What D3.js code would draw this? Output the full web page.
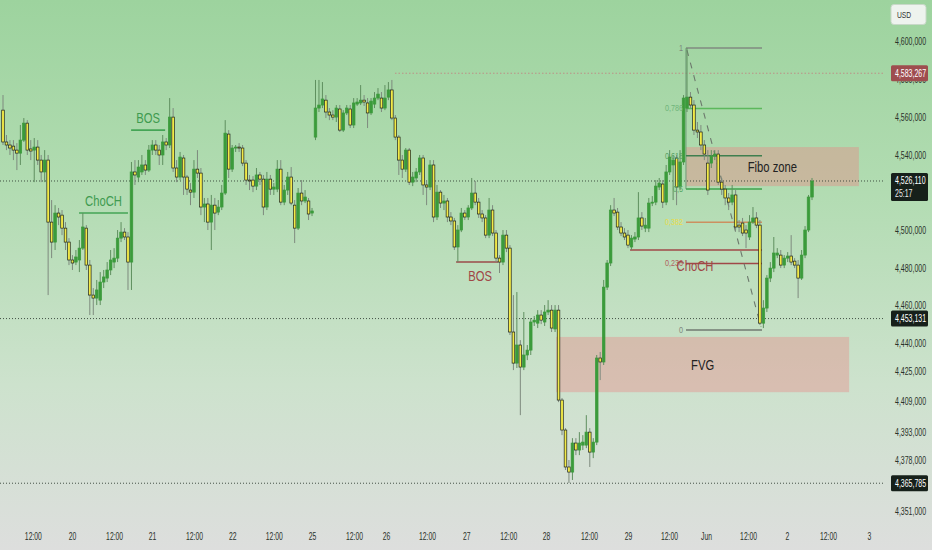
<!DOCTYPE html>
<html>
<head>
<meta charset="utf-8">
<script src="https://cdn.jsdelivr.net/npm/d3@7"></script>
<style>
html,body{margin:0;padding:0;overflow:hidden;background:#dcdddc}
svg{display:block}
</style>
</head>
<body>
<svg id="chart" width="932" height="550"></svg>
<script>
// ---------- DATA (price in thousands) ----------
// each candle: [open, high, low, close]
const may19 = [
 [4563.7,4571.7,4545.2,4546.8],[4546.8,4550.5,4542.5,4545.2],[4545.2,4547.8,4539.9,4543.6],[4544.6,4547.8,4537.2,4542.5],
 [4542.5,4546.2,4531.9,4540.9],[4540.9,4555.8,4534.6,4547.8],[4547.8,4559.5,4546.8,4556.8],[4556.8,4558.4,4539.9,4542.5],
 [4543.1,4547.8,4537.2,4542.0],[4542.5,4548.9,4525.5,4544.1],[4544.1,4547.8,4534.6,4537.2],[4537.2,4539.9,4525.5,4530.9],
 [4530.9,4542.5,4525.5,4537.2],[4537.2,4539.9,4465.6,4504.3],[4504.3,4516.0,4485.2,4493.7],[4493.7,4513.3,4489.5,4509.1],
 [4509.1,4511.8,4502.7,4507.0],[4508.0,4510.7,4497.4,4501.1],[4501.1,4504.3,4489.5,4493.7],[4493.7,4495.8,4481.5,4484.2]
];
const may20 = [
 [4484.2,4486.8,4478.9,4482.6],[4483.1,4489.5,4481.5,4485.8],[4484.2,4494.8,4477.8,4490.5],[4490.5,4509.1,4489.5,4501.7],
 [4501.1,4502.7,4478.9,4481.5],[4481.5,4484.2,4455.0,4465.6],[4465.6,4469.3,4455.0,4464.0],[4464.0,4473.6,4460.3,4468.3],
 [4462.9,4477.8,4460.3,4472.5],[4472.5,4478.9,4469.3,4475.2],[4474.6,4483.1,4472.5,4478.9],[4478.9,4489.5,4476.2,4484.2],
 [4483.1,4490.5,4479.9,4485.2],[4485.2,4500.1,4483.1,4495.8],[4495.8,4504.3,4493.7,4499.0],[4499.0,4501.1,4494.8,4496.4],
 [4496.4,4499.0,4468.3,4483.1],[4483.1,4536.2,4468.3,4530.9],[4530.9,4537.2,4524.0,4529.3],[4528.2,4537.2,4525.5,4533.5],
 [4530.9,4539.9,4529.3,4534.6],[4534.6,4537.2,4529.3,4531.9],[4531.9,4545.2,4530.9,4542.5]
];
const may21 = [
 [4542.5,4547.8,4539.9,4545.2],[4545.2,4547.8,4539.9,4542.5],[4542.5,4545.2,4534.6,4539.9],[4539.9,4550.5,4534.6,4546.8],
 [4546.8,4548.9,4542.5,4545.2],[4545.2,4570.1,4543.6,4560.0],[4560.0,4564.8,4530.9,4533.0],[4533.0,4537.2,4525.5,4528.2],
 [4528.2,4541.5,4526.6,4538.8],[4538.3,4539.9,4518.7,4528.2],[4528.2,4529.3,4518.7,4521.8],[4521.3,4525.0,4513.3,4520.2],
 [4520.2,4537.2,4517.1,4532.4],[4532.4,4542.5,4527.7,4530.3],[4530.3,4533.0,4508.0,4512.3],[4512.3,4517.1,4504.3,4513.9],
 [4513.9,4517.1,4500.1,4504.3],[4504.3,4518.7,4489.5,4513.3],[4513.3,4517.1,4500.1,4509.1],[4509.6,4516.0,4508.0,4512.3],
 [4512.3,4524.0,4510.7,4519.7],[4519.7,4558.4,4518.7,4551.5],[4551.0,4553.1,4527.7,4532.4]
];
const may22 = [
 [4532.4,4545.2,4530.9,4543.6],[4543.6,4545.2,4541.5,4544.1],[4544.1,4546.2,4541.5,4543.6],[4543.6,4545.2,4534.0,4535.6],
 [4535.6,4537.2,4524.0,4526.6],[4526.6,4529.3,4521.3,4526.1],[4526.6,4528.7,4520.2,4523.4],[4523.4,4533.0,4521.3,4529.3],
 [4529.3,4530.9,4524.0,4527.1],[4527.1,4529.3,4508.0,4512.3],[4512.3,4530.9,4510.7,4527.1],[4527.1,4529.3,4518.7,4521.8],
 [4521.8,4525.0,4518.7,4522.9],[4521.8,4537.2,4520.2,4532.4],[4532.4,4537.2,4513.3,4514.9],[4514.9,4524.0,4513.3,4521.3],
 [4521.3,4530.9,4518.7,4528.2],[4528.2,4533.5,4513.3,4514.4],[4513.3,4516.0,4493.2,4501.1],[4501.1,4522.4,4500.1,4519.7],
 [4519.7,4526.6,4513.3,4515.5],[4515.5,4521.3,4514.4,4517.6],[4515.5,4517.1,4505.4,4508.6],[4509.1,4511.8,4507.5,4510.2]
];
const may25 = [
 [4549.4,4579.7,4547.8,4564.8],[4564.8,4579.7,4562.7,4566.4],[4566.4,4578.6,4564.8,4569.6],[4569.0,4571.7,4559.5,4562.7],
 [4562.7,4564.8,4558.4,4561.1],[4561.1,4563.7,4558.4,4560.0],[4560.0,4566.4,4557.4,4564.8],[4564.3,4566.4,4552.1,4553.1],
 [4553.1,4563.7,4552.1,4562.2],[4562.2,4566.4,4561.1,4564.8],[4564.3,4566.4,4554.2,4555.8],[4555.8,4570.1,4554.2,4567.5],
 [4566.9,4570.1,4565.9,4568.0],[4567.5,4577.0,4566.4,4569.0],[4569.0,4571.7,4565.9,4568.0],[4567.5,4570.1,4554.2,4562.2],
 [4562.2,4570.1,4561.1,4568.5],[4566.9,4573.3,4564.8,4570.1],[4570.1,4575.4,4569.0,4572.2],[4570.1,4573.3,4562.7,4564.8],
 [4564.8,4577.0,4563.7,4570.1]
];
const may26 = [
 [4570.6,4578.6,4569.0,4574.4],[4574.4,4579.7,4558.4,4559.5],[4559.5,4561.1,4547.8,4549.4],[4549.4,4550.5,4529.3,4537.2],
 [4537.2,4539.9,4527.7,4532.4],[4532.4,4543.6,4530.9,4542.5],[4542.5,4543.6,4524.0,4525.5],[4525.5,4530.9,4523.4,4528.2],
 [4527.7,4533.0,4525.5,4530.9],[4530.9,4539.9,4529.3,4538.3],[4538.3,4539.9,4518.7,4524.0],[4524.0,4526.6,4513.3,4522.9],
 [4522.9,4537.2,4521.3,4534.6],[4534.6,4537.2,4504.3,4507.0],[4507.0,4524.0,4505.4,4520.2],[4520.2,4521.3,4511.8,4514.4],
 [4514.4,4518.7,4510.7,4515.5],[4515.5,4517.1,4504.3,4507.0],[4507.0,4509.6,4502.7,4504.9],[4504.9,4506.5,4489.5,4491.1],
 [4491.1,4502.7,4483.1,4500.1],[4500.1,4511.8,4499.0,4509.1],[4509.1,4510.7,4505.4,4507.0]
];
const may27 = [
 [4507.0,4513.3,4505.4,4511.8],[4511.8,4527.7,4510.7,4519.7],[4519.7,4526.1,4513.3,4514.9],[4514.9,4517.1,4506.5,4508.6],
 [4508.6,4510.7,4504.3,4506.5],[4506.5,4508.0,4495.8,4497.4],[4497.4,4517.1,4495.8,4510.7],[4510.7,4513.3,4496.9,4498.5],
 [4498.5,4500.1,4483.1,4485.2],[4485.2,4486.8,4477.3,4483.1],[4483.1,4500.1,4481.5,4497.4],[4497.4,4500.1,4488.4,4490.5],
 [4490.5,4492.1,4444.4,4446.0],[4446.0,4465.6,4425.8,4429.5],[4429.5,4467.2,4426.9,4439.1],[4439.1,4441.7,4401.9,4427.4],
 [4427.4,4456.6,4425.8,4433.8],[4433.8,4439.1,4431.1,4436.4],[4436.4,4453.4,4433.8,4451.3],[4451.3,4454.5,4449.2,4452.3],
 [4450.7,4457.6,4448.1,4455.0],[4455.0,4457.6,4450.2,4452.3],[4451.3,4460.3,4449.2,4456.6]
];
const may28 = [
 [4456.6,4462.9,4455.0,4457.6],[4457.6,4460.3,4446.0,4448.1],[4447.6,4460.3,4446.0,4457.6],[4457.6,4460.3,4408.8,4409.9],
 [4409.9,4411.0,4391.3,4394.0],[4394.0,4395.0,4372.8,4374.4],[4374.4,4378.1,4365.9,4371.7],[4371.7,4389.7,4367.5,4387.1],
 [4387.1,4389.7,4380.7,4383.4],[4383.4,4392.9,4380.7,4387.1],[4386.0,4391.3,4383.4,4387.6],[4386.0,4401.9,4384.4,4392.9],
 [4392.9,4395.0,4374.4,4382.3],[4382.3,4389.7,4379.1,4387.6],[4387.6,4433.8,4386.0,4432.2],[4432.2,4435.4,4420.5,4430.1],
 [4430.1,4473.6,4428.5,4469.8],[4469.8,4484.2,4468.3,4482.6],[4482.6,4513.3,4481.0,4510.7],[4510.7,4517.1,4507.5,4509.1],
 [4509.6,4511.8,4500.1,4501.7],[4501.7,4504.3,4496.9,4498.5]
];
const may29 = [
 [4498.5,4501.1,4494.8,4496.4],[4497.4,4500.1,4490.5,4492.1],[4491.1,4497.4,4489.5,4495.8],[4495.3,4499.0,4493.7,4496.4],
 [4496.4,4520.2,4494.8,4506.5],[4506.5,4509.6,4500.1,4502.2],[4501.1,4506.5,4499.0,4502.7],[4501.1,4517.1,4499.0,4514.4],
 [4514.4,4518.1,4512.8,4514.9],[4514.9,4526.6,4513.3,4523.4],[4522.9,4527.7,4521.3,4525.0],[4524.5,4526.6,4511.8,4514.9],
 [4514.9,4534.6,4513.3,4530.9],[4530.9,4542.5,4529.3,4538.8],[4534.6,4539.9,4516.0,4537.2],[4538.3,4539.9,4513.3,4522.9],
 [4522.9,4542.5,4521.3,4536.2],[4536.2,4571.7,4534.6,4570.1]
];
const jun1 = [
 [4564.8,4596.6,4562.7,4570.6],[4570.6,4573.3,4564.8,4566.4],[4566.4,4569.0,4550.5,4553.1],[4553.1,4557.4,4548.9,4552.1],
 [4552.1,4555.8,4542.5,4545.2],[4545.2,4547.8,4537.2,4540.4],[4535.6,4542.5,4518.7,4521.3],[4535.6,4542.5,4533.0,4539.3],
 [4539.3,4542.5,4537.2,4540.4],[4540.4,4542.5,4524.0,4525.5],[4525.5,4527.7,4518.7,4521.8],[4521.8,4524.0,4513.3,4517.1],
 [4517.1,4519.7,4510.7,4514.9],[4514.9,4524.0,4513.3,4518.7],[4518.7,4521.3,4500.1,4501.7],[4502.7,4505.4,4499.0,4501.7],
 [4503.8,4506.5,4496.9,4498.5],[4500.1,4502.7,4490.5,4498.5],[4496.4,4508.0,4494.8,4504.3],[4504.3,4512.3,4503.3,4506.5],
 [4506.5,4509.6,4501.1,4502.7],[4502.7,4505.4,4449.7,4450.7],[4450.7,4462.9,4448.1,4458.7],[4458.7,4476.2,4456.6,4474.6],
 [4474.6,4483.1,4472.5,4479.9],[4479.9,4496.4,4477.8,4487.9],[4486.8,4490.5,4485.2,4487.9]
];
const jun2 = [
 [4486.8,4489.5,4479.9,4481.5],[4481.5,4486.8,4479.9,4485.2],[4485.2,4488.4,4483.1,4486.3],[4486.3,4497.4,4481.5,4483.1],
 [4483.6,4485.2,4479.9,4481.5],[4481.5,4484.2,4464.0,4474.6],[4474.6,4489.5,4473.6,4486.8],[4486.8,4502.2,4485.2,4500.1],
 [4500.1,4518.7,4499.0,4517.6],[4517.6,4527.7,4516.0,4526.11]
];

// axis ticks
const priceTicks = [4600,4580,4560,4540,4500,4480,4460,4440,4425,4409,4393,4378,4351];
const timeTickPos = [8.6,19.9,32,42.9,55,66,78,89,101.1,110.3,122.1,133.4,145.5,156.4,168.8,180,191.8,202.5,214.6,225.8,237.6,249.4];
const timeTickLabels = ["12:00","20","12:00","21","12:00","22","12:00","25","12:00","26","12:00","27","12:00","28","12:00","29","12:00","Jun","12:00","2","12:00","3"];

// price markers on the axis
const markPrices = [4583.267, 4526.110, 4453.131, 4365.785];
const markKinds  = ["high","last","dot","dot"];
const countdown = "25:17";
const currency = "USD";

// annotations (bar index, price)
const chochGreen = [21.9, 36.0, 4509.1];
const bosGreen   = [36.9, 46.7, 4553.1];
const bosRed     = [130.5, 142.6, 4483.1];
const chochRed   = [180.6, 218.6, 4489.5];
const fibo       = [196.7, 218.6, 4596.6, 4447.1];
const fiboLevels = [1, 0.786, 0.618, 0.5, 0.382, 0.236, 0];
const fiboLabels = ["1","0,786","0,618","0,5","0,382","0,236","0"];
const fiboZone   = [196.7, 246.5, 4544.1, 4523.4];
const fvgZone    = [159.3, 243.7, 4443.4, 4414.1];
const highLineStart = 112.9;

// ---------- DRAW ----------
const candles = [].concat(may19,may20,may21,may22,may25,may26,may27,may28,may29,jun1,jun2);
const W = 932, H = 550, plotRight = 885;
const svg = d3.select('#chart');
const defs = svg.append('defs');
const grad = defs.append('linearGradient').attr('id','bg').attr('x1',0).attr('y1',0).attr('x2',0).attr('y2',1);
[[0,'#9dd39e'],[0.35,'#b2dcb2'],[0.7,'#cde2cd'],[1,'#dddedd']].forEach(s=>
  grad.append('stop').attr('offset',s[0]).attr('stop-color',s[1]));
defs.append('clipPath').attr('id','plotclip').append('rect').attr('x',0).attr('y',0).attr('width',plotRight).attr('height',522);

svg.append('rect').attr('width',W).attr('height',H).attr('fill','url(#bg)');

const x = d3.scaleLinear().domain([0, candles.length-1]).range([3, 812]);
const y = d3.scaleLinear().domain([4351, 4600]).range([511.1, 41.7]);

const FONT = "'Liberation Sans', Arial, sans-serif";
// condense text horizontally (reference uses a narrow face): move position into a transform, then scale x
function squeeze(sel, k){
  sel.each(function(){
    const t = d3.select(this);
    const tx = +t.attr('x') || 0, ty = +t.attr('y') || 0;
    t.attr('x',0).attr('y',0).attr('transform',`translate(${tx},${ty}) scale(${k},1)`);
  });
}
const plot = svg.append('g').attr('clip-path','url(#plotclip)');

// zones
plot.append('rect').attr('x',x(fvgZone[0])).attr('y',y(fvgZone[2]))
  .attr('width',x(fvgZone[1])-x(fvgZone[0])).attr('height',y(fvgZone[3])-y(fvgZone[2]))
  .attr('fill','rgba(232,140,138,0.42)');
plot.append('rect').attr('x',x(fiboZone[0])).attr('y',y(fiboZone[2]))
  .attr('width',x(fiboZone[1])-x(fiboZone[0])).attr('height',y(fiboZone[3])-y(fiboZone[2]))
  .attr('fill','rgba(222,150,140,0.5)');

// horizontal dotted lines
markPrices.forEach((p,i)=>{
  plot.append('line')
    .attr('x1', i===0 ? x(highLineStart) : 0).attr('x2', plotRight)
    .attr('y1', y(p)).attr('y2', y(p))
    .attr('stroke', i===0 ? '#c48080' : '#2c3a30')
    .attr('stroke-width', 1).attr('stroke-dasharray', i===0 ? '1.5,2' : '1,2')
    .attr('opacity', i===0 ? 0.8 : 0.85);
});

// structure lines
function hline(a, color){
  plot.append('line').attr('x1',x(a[0])).attr('x2',x(a[1])).attr('y1',y(a[2])).attr('y2',y(a[2]))
    .attr('stroke',color).attr('stroke-width',1.6);
}
hline(chochGreen,'#45a556');
hline(bosGreen,'#45a556');
hline(bosRed,'#9b4a4a');
hline(chochRed,'#a04848');

// fibo
const fiboColors = ['#808a80','#5cb85c','#3f7f4f','#3fa34d','#cc9060','#a04848','#707a70'];
const fiboTextColors = ['#7d887d','#6fb57a','#58a064','#58a864','#e8dc4a','#b06060','#7d887d'];
const fy = lv => y(fibo[3] + (fibo[2]-fibo[3])*lv);
plot.append('line').attr('x1',x(fibo[0])).attr('x2',x(fibo[0])).attr('y1',fy(1)).attr('y2',fy(0.5))
  .attr('stroke','#6f9a78').attr('stroke-width',1);
fiboLevels.forEach((lv,i)=>{
  plot.append('line').attr('x1',x(fibo[0])).attr('x2',x(fibo[1])).attr('y1',fy(lv)).attr('y2',fy(lv))
    .attr('stroke',fiboColors[i]).attr('stroke-width',1.5);
});
plot.append('line').attr('x1',x(fibo[0])+1).attr('y1',fy(1)+2).attr('x2',x(fibo[1])-1).attr('y2',fy(0)-3)
  .attr('stroke','#6c786c').attr('stroke-width',1.1).attr('stroke-dasharray','6,7');

// candles
const cg = plot.append('g');
cg.selectAll('line.wick').data(candles).join('line').attr('class','wick')
  .attr('x1',(d,i)=>x(i)).attr('x2',(d,i)=>x(i))
  .attr('y1',d=>y(d[1])).attr('y2',d=>y(d[2]))
  .attr('stroke',d=>d[3]>=d[0] ? '#5f8f5f' : '#7e8a7e').attr('stroke-width',1);
const bw = 2.6;
cg.selectAll('rect.body').data(candles).join('rect').attr('class','body')
  .attr('x',(d,i)=>x(i)-bw/2)
  .attr('y',d=>y(Math.max(d[0],d[3])))
  .attr('width',bw)
  .attr('height',d=>Math.max(1, Math.abs(y(d[0])-y(d[3]))))
  .attr('fill',d=>d[3]>=d[0] ? '#3b9b3b' : '#f2ea48')
  .attr('stroke',d=>d[3]>=d[0] ? '#3b9b3b' : '#1d231d')
  .attr('stroke-width',0.7);

// fibo labels
fiboLevels.forEach((lv,i)=>{
  svg.append('text').attr('x',x(fibo[0])-3).attr('y',fy(lv)+3)
    .attr('text-anchor','end').attr('font-family',FONT).attr('font-size',8.5)
    .attr('fill',fiboTextColors[i]).text(fiboLabels[i]).call(squeeze,0.85);
});

// annotation texts
function label(txt, cx, cy, color){
  svg.append('text').attr('x',cx).attr('y',cy).attr('text-anchor','middle')
    .attr('font-family',FONT).attr('font-size',15).attr('fill',color).text(txt).call(squeeze,0.75);
}
label('ChoCH', (x(chochGreen[0])+x(chochGreen[1]))/2, y(chochGreen[2])-7, '#3f9b50');
label('BOS', (x(bosGreen[0])+x(bosGreen[1]))/2, y(bosGreen[2])-7, '#3f9b50');
label('BOS', (x(bosRed[0])+x(bosRed[1]))/2+3, y(bosRed[2])+19, '#a04646');
label('ChoCH', (x(chochRed[0])+x(chochRed[1]))/2-1, y(chochRed[2])+21, '#a04646');
label('Fibo zone', (x(fiboZone[0])+x(fiboZone[1]))/2, (y(fiboZone[2])+y(fiboZone[3]))/2+5, '#222');
label('FVG', (x(fvgZone[0])+x(fvgZone[1]))/2, (y(fvgZone[2])+y(fvgZone[3]))/2+5, '#222');

// price axis
const fmt = v => d3.format(',.3f')(v).replace('.', ',');
const yAxis = d3.axisRight(y).tickValues(priceTicks).tickSize(0).tickPadding(0).tickFormat(fmt);
const ya = svg.append('g').attr('transform','translate(895,0)').call(yAxis);
ya.select('.domain').remove();
ya.selectAll('text').attr('font-family',FONT).attr('font-size',10).attr('fill','#2a322a').attr('x',0).call(squeeze,0.7);

// time axis
const xAxis = d3.axisBottom(x).tickValues(timeTickPos).tickSize(0).tickPadding(0)
  .tickFormat((d,i)=>timeTickLabels[i]);
const xa = svg.append('g').attr('transform','translate(0,533)').call(xAxis);
xa.select('.domain').remove();
xa.selectAll('text').attr('font-family',FONT).attr('font-size',10).attr('fill','#2a322a').call(squeeze,0.68);

// axis price markers
markPrices.forEach((p,i)=>{
  const yy = y(p);
  const two = markKinds[i]==='last';
  svg.append('rect').attr('x',891).attr('y',yy-8).attr('width',37).attr('height',two?28:16).attr('rx',1.5)
    .attr('fill', markKinds[i]==='high' ? '#9e4d4f' : '#16201a');
  svg.append('text').attr('x',895).attr('y',yy+3.5).attr('font-family',FONT).attr('font-size',10)
    .attr('fill','#fff').text(fmt(p)).call(squeeze,0.7);
  if(two) svg.append('text').attr('x',895).attr('y',yy+16).attr('font-family',FONT).attr('font-size',10)
    .attr('fill','#e8e8e8').text(countdown).call(squeeze,0.7);
});

// currency box
svg.append('rect').attr('x',891).attr('y',4.5).attr('width',35).attr('height',20).attr('rx',3)
  .attr('fill','#eef3ee').attr('stroke','#c8d8c8');
svg.append('text').attr('x',897).attr('y',17.5).attr('font-family',FONT).attr('font-size',9)
  .attr('fill','#333').text(currency).call(squeeze,0.75);
</script>
</body>
</html>
